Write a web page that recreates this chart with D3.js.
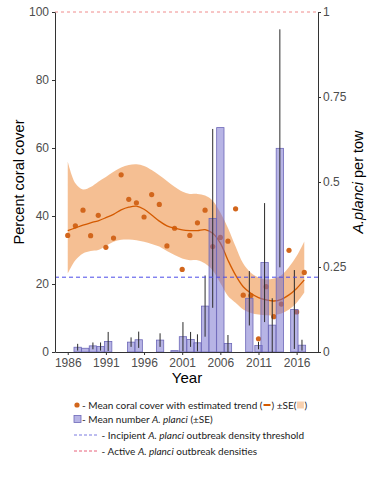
<!DOCTYPE html>
<html>
<head>
<meta charset="utf-8">
<script src="https://cdn.jsdelivr.net/npm/d3@7"></script>
<style>
  body { margin: 0; background: #fff; }
  svg { display: block; }
</style>
</head>
<body>
<svg id="chart" width="384" height="480"></svg>
<script>
// survey years with coral cover means (%)
const coverYears = [1986, 1987, 1988, 1989, 1990, 1991, 1992, 1993, 1994, 1995, 1996, 1997, 1998, 1999, 2000, 2001,
                    2002, 2003, 2004, 2005, 2006, 2007, 2008, 2009, 2010, 2011, 2012, 2013, 2014, 2015, 2016, 2017];
const coverMean = [34.3, 37.1, 41.7, 34.2, 40.2, 30.8, 33.5, 52.1, 44.9, 43.9, 39.7, 46.3, 43.4, 31.2, 36.4, 24.3,
                   34.3, 38.0, 41.7, 31.0, 33.7, 32.6, 42.1, 16.7, 16.6, 3.9, 19.2, 10.4, 14.1, 29.9, 11.8, 23.4];

// estimated trend and its +-SE band
const trendFit = [35.7, 36.5, 37.3, 38.0, 38.6, 39.5, 40.5, 41.8, 42.6, 42.9, 42.0, 40.3, 38.5, 37.1, 36.4, 35.9,
                  35.7, 35.7, 36.0, 34.9, 32.0, 27.0, 22.6, 19.2, 17.3, 16.0, 15.3, 15.0, 15.5, 16.8, 18.7, 21.2];
const trendHi = [56.0, 49.6, 47.8, 48.5, 50.1, 51.5, 53.0, 54.3, 55.0, 55.2, 54.7, 53.5, 52.0, 50.3, 48.6, 47.2,
                 46.5, 46.5, 46.0, 44.5, 41.0, 36.5, 31.0, 26.0, 23.3, 21.9, 21.3, 21.6, 22.6, 25.0, 28.2, 32.5];
const trendLo = [23.1, 27.0, 29.0, 29.7, 30.0, 31.2, 32.4, 33.0, 33.1, 32.9, 32.4, 31.8, 31.0, 29.7, 28.5, 27.5,
                 27.0, 27.0, 26.0, 24.0, 20.3, 16.5, 14.5, 12.5, 11.5, 11.0, 10.8, 10.8, 11.3, 12.5, 14.5, 17.5];

// A. planci per tow (bars) and SE
const barYears = [1987.3, 1988.3, 1989.3, 1990.3, 1991.3, 1994.3, 1995.3, 1998.1, 2000.0, 2001.1, 2002.1, 2003.0,
                  2004.0, 2005.0, 2006.0, 2007.0, 2009.8, 2011.0, 2011.8, 2012.8, 2013.8, 2015.7, 2016.7];
const barMean = [0.014, 0.011, 0.018, 0.016, 0.031, 0.029, 0.036, 0.035, 0.004, 0.045, 0.037, 0.027,
                 0.135, 0.393, 0.660, 0.025, 0.158, 0.019, 0.263, 0.079, 0.599, 0.125, 0.020];
const barSE = [0.010, null, 0.010, 0.012, 0.028, 0.014, 0.024, 0.020, null, 0.043, 0.022, 0.025,
               0.090, 0.263, null, 0.025, 0.080, 0.011, 0.175, 0.079, 0.350, 0.116, 0.016];

// thresholds (A. planci per tow)
const incipientLevel = 0.22;
const activeLevel = 1;

const xTicks = [1986, 1991, 1996, 2001, 2006, 2011, 2016];
const yLeftTicks = [0, 20, 40, 60, 80, 100];
const yRightTicks = [0, 0.25, 0.5, 0.75, 1];

const svg = d3.select('#chart');
const axisFont = '"Liberation Sans", Arial, sans-serif';

const x = d3.scaleLinear().domain([1984.33, 2018.8]).range([55, 318]);
const yL = d3.scaleLinear().domain([0, 100]).range([352, 12]);
const yR = d3.scaleLinear().domain([0, 1]).range([352, 12]);

const cover = coverYears.map((yr, i) => ({ yr, v: coverMean[i], fit: trendFit[i], lo: trendLo[i], hi: trendHi[i] }));
const bars = barYears.map((yr, i) => ({ yr, v: barMean[i], se: barSE[i] }));

const plot = svg.append('g');

// SE ribbon
plot.append('path')
  .datum(cover)
  .attr('fill', '#f0a160')
  .attr('fill-opacity', 0.68)
  .attr('d', d3.area().x(d => x(d.yr)).y0(d => yL(d.lo)).y1(d => yL(d.hi)).curve(d3.curveCatmullRom));

// points
plot.selectAll('circle.cover')
  .data(cover)
  .enter().append('circle')
  .attr('class', 'cover')
  .attr('cx', d => x(d.yr))
  .attr('cy', d => yL(d.v))
  .attr('r', 2.6)
  .attr('fill', '#d2661c');

// trend line
plot.append('path')
  .datum(cover)
  .attr('fill', 'none')
  .attr('stroke', '#d45a00')
  .attr('stroke-width', 1.3)
  .attr('d', d3.line().x(d => x(d.yr)).y(d => yL(d.fit)).curve(d3.curveCatmullRom));

// bars
const barW = x(1) - x(0) - 0.3;
plot.selectAll('rect.bar')
  .data(bars)
  .enter().append('rect')
  .attr('class', 'bar')
  .attr('x', d => x(d.yr) - barW / 2)
  .attr('y', d => yR(d.v))
  .attr('width', barW)
  .attr('height', d => yR(0) - yR(d.v))
  .attr('fill', 'rgba(112,106,204,0.5)')
  .attr('stroke', '#6d68b8')
  .attr('stroke-width', 0.8);

// error bars
plot.selectAll('line.err')
  .data(bars.filter(d => d.se != null))
  .enter().append('line')
  .attr('class', 'err')
  .attr('x1', d => x(d.yr))
  .attr('x2', d => x(d.yr))
  .attr('y1', d => yR(Math.max(0, d.v - d.se)))
  .attr('y2', d => yR(d.v + d.se))
  .attr('stroke', '#2b2b2b')
  .attr('stroke-width', 1);

// threshold lines
plot.append('line')
  .attr('x1', x.range()[0]).attr('x2', x.range()[1])
  .attr('y1', yR(incipientLevel)).attr('y2', yR(incipientLevel))
  .attr('stroke', '#4b4be8').attr('stroke-width', 1).attr('stroke-dasharray', '4,3');
plot.append('line')
  .attr('x1', x.range()[0]).attr('x2', x.range()[1])
  .attr('y1', yR(activeLevel)).attr('y2', yR(activeLevel))
  .attr('stroke', '#f08c8c').attr('stroke-width', 1).attr('stroke-dasharray', '3,3');

// axes
function styleAxis(g) {
  g.selectAll('path.domain').attr('stroke', '#333');
  g.selectAll('.tick line').attr('stroke', '#333');
  g.selectAll('.tick text').attr('fill', '#4d4d4d').style('font-size', '12px').style('font-family', axisFont);
}
svg.append('g').attr('transform', 'translate(0,352)')
  .call(d3.axisBottom(x).tickValues(xTicks).tickFormat(d3.format('d')).tickSize(3).tickSizeOuter(0))
  .call(styleAxis);
svg.append('g').attr('transform', 'translate(55,0)')
  .call(d3.axisLeft(yL).tickValues(yLeftTicks).tickSize(3).tickSizeOuter(0))
  .call(styleAxis);
svg.append('g').attr('transform', 'translate(318,0)')
  .call(d3.axisRight(yR).tickValues(yRightTicks).tickFormat(d => String(d)).tickSize(3).tickPadding(2).tickSizeOuter(0))
  .call(styleAxis);

// axis titles
svg.append('text')
  .attr('transform', 'translate(24,182) rotate(-90)')
  .attr('text-anchor', 'middle')
  .style('font-family', axisFont).style('font-size', '14.5px')
  .text('Percent coral cover');
const rt = svg.append('text')
  .attr('transform', 'translate(363,182) rotate(-90)')
  .attr('text-anchor', 'middle')
  .style('font-family', axisFont).style('font-size', '14.5px');
rt.append('tspan').style('font-style', 'italic').text('A.planci');
rt.append('tspan').text(' per tow');
svg.append('text')
  .attr('x', 187).attr('y', 383)
  .attr('text-anchor', 'middle')
  .style('font-family', axisFont).style('font-size', '15px')
  .text('Year');

// legend
const legend = svg.append('g').style('font-family', 'Lato, "Open Sans", sans-serif').style('font-size', '10px').attr('fill', '#1a1a1a');

function legendRow(x0, y, parts) {
  let cx = x0;
  parts.forEach(p => {
    if (p.sym) {
      p.sym(cx, y);
      cx += p.w;
    } else {
      const t = legend.append('text')
        .attr('x', cx).attr('y', y).attr('dy', '0.35em')
        .style('font-style', p.it ? 'italic' : 'normal')
        .text(p.t.replace(/ /g, '\u00a0'));
      cx += t.node().getComputedTextLength();
    }
  });
}

legend.append('circle').attr('cx', 77).attr('cy', 405).attr('r', 2.6).attr('fill', '#d2661c');
legendRow(82, 405, [
  { t: '- Mean coral cover with estimated trend (' },
  { w: 9, sym: (sx, sy) => legend.append('line').attr('x1', sx + 1).attr('x2', sx + 8).attr('y1', sy).attr('y2', sy)
      .attr('stroke', '#d45a00').attr('stroke-width', 2) },
  { t: ') ±SE(' },
  { w: 8, sym: (sx, sy) => legend.append('rect').attr('x', sx + 0.5).attr('y', sy - 3.5).attr('width', 7).attr('height', 7)
      .attr('fill', '#f0a160').attr('fill-opacity', 0.5) },
  { t: ')' }
]);

legend.append('rect').attr('x', 74).attr('y', 415.5).attr('width', 7).attr('height', 7)
  .attr('fill', 'rgba(112,106,204,0.5)').attr('stroke', '#6d68b8').attr('stroke-width', 0.8);
legendRow(82, 419, [
  { t: '- Mean number ' }, { t: 'A. planci', it: true }, { t: ' (±SE)' }
]);

legend.append('line').attr('x1', 74).attr('x2', 97).attr('y1', 435).attr('y2', 435)
  .attr('stroke', '#7b7be0').attr('stroke-width', 1).attr('stroke-dasharray', '3,2');
legendRow(99, 435, [
  { t: ' - Incipient ' }, { t: 'A. planci', it: true }, { t: ' outbreak density threshold' }
]);

legend.append('line').attr('x1', 74).attr('x2', 97).attr('y1', 451).attr('y2', 451)
  .attr('stroke', '#e8607a').attr('stroke-width', 1).attr('stroke-dasharray', '3,2');
legendRow(99, 451, [
  { t: ' - Active ' }, { t: 'A. planci', it: true }, { t: ' outbreak densities' }
]);
</script>
</body>
</html>
